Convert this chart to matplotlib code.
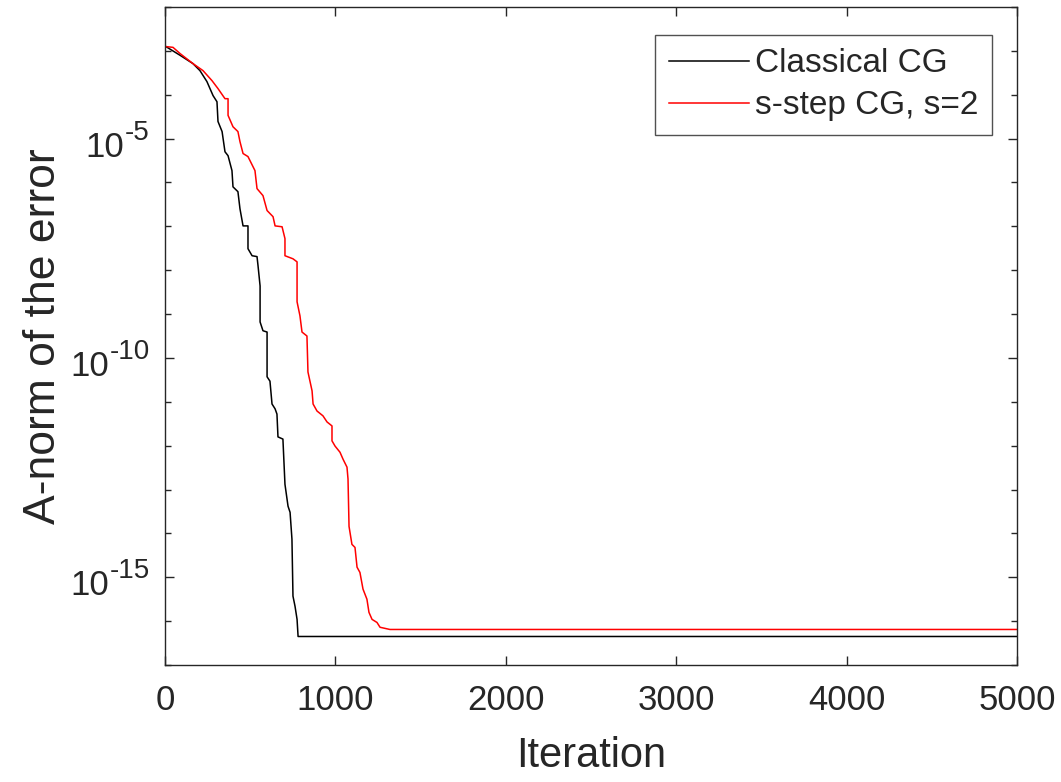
import matplotlib
matplotlib.use("Agg")
import matplotlib.pyplot as plt
import matplotlib.transforms as mtransforms
import numpy as np
from matplotlib.ticker import FixedLocator, NullFormatter

plt.rcParams['font.family'] = ['Liberation Sans', 'DejaVu Sans']

# Classical CG: iteration and log10 of A-norm error
cg_iter = [0, 88, 164, 205, 246, 282, 305, 311, 335, 352, 370, 393, 399, 428, 440,
           458, 487, 487, 511, 540, 546, 558, 558, 575, 599, 599, 616, 628, 646, 657,
           663, 692, 704, 722, 734, 745, 751, 763, 775, 781, 5000]
cg_log = [-2.89, -3.10, -3.29, -3.45, -3.70, -4.02, -4.16, -4.61, -4.84, -5.30, -5.39,
          -5.73, -6.10, -6.21, -6.60, -6.99, -6.99, -7.51, -7.67, -7.69, -7.90, -8.36,
          -9.18, -9.38, -9.41, -10.43, -10.53, -11.05, -11.16, -11.28, -11.80, -11.85,
          -12.88, -13.38, -13.52, -14.13, -15.43, -15.66, -15.96, -16.35, -16.35]

# s-step CG, s=2
ss_iter = [0, 47, 88, 164, 223, 276, 311, 352, 370, 370, 399, 428, 440, 458, 487, 528,
           540, 575, 599, 634, 646, 687, 704, 704, 751, 775, 775, 792, 804, 833, 839,
           863, 869, 892, 927, 951, 980, 980, 998, 1027, 1045, 1068, 1074, 1080, 1097,
           1115, 1127, 1144, 1162, 1185, 1197, 1215, 1244, 1262, 1320, 5000]
ss_log = [-2.90, -2.92, -3.06, -3.29, -3.45, -3.68, -3.86, -4.09, -4.09, -4.47, -4.73,
          -4.84, -5.07, -5.34, -5.41, -5.73, -6.14, -6.30, -6.64, -6.78, -6.99, -7.01,
          -7.28, -7.67, -7.74, -7.81, -8.72, -9.04, -9.41, -9.50, -10.32, -10.75, -11.05,
          -11.21, -11.32, -11.46, -11.55, -11.89, -12.01, -12.15, -12.31, -12.49, -12.76,
          -13.84, -14.25, -14.32, -14.77, -14.89, -15.27, -15.50, -15.80, -15.96, -16.03,
          -16.14, -16.19, -16.19]

labels = ['Classical CG', 's-step CG, s=2']
xticks = [0, 1000, 2000, 3000, 4000, 5000]
ytick_exponents = [-15, -10, -5]

axc = '#262626'
fig = plt.figure(figsize=(10.61, 7.82), dpi=100)
ax = fig.add_axes([165/1061, 1 - 665/782, 852/1061, 658/782])

ax.plot(cg_iter, 10.0**np.array(cg_log), color='black', lw=1.1, label=labels[0])
ax.plot(ss_iter, 10.0**np.array(ss_log), color='#ff0000', lw=1.1, label=labels[1])

ax.set_yscale('log')
ax.set_xlim(0, 5000)
ax.set_ylim(1e-17, 1e-2)
ax.set_xticks(xticks)
ax.set_xticklabels([str(t) for t in xticks])
ax.yaxis.set_major_locator(FixedLocator([10.0**e for e in ytick_exponents]))
ax.yaxis.set_major_formatter(NullFormatter())
ax.yaxis.set_minor_locator(FixedLocator([10.0**k for k in range(-17, -1)]))
ax.yaxis.set_minor_formatter(NullFormatter())

for s in ax.spines.values():
    s.set_color(axc)
    s.set_linewidth(1.0)
ax.tick_params(axis='both', which='major', direction='in', top=True, right=True,
               length=6.5, width=1.0, color=axc, labelcolor=axc, labelsize=25)
ax.tick_params(axis='x', which='major', pad=14)
ax.tick_params(axis='y', which='minor', direction='in', left=True, right=True,
               length=4.5, width=1.0, color=axc)

# y tick labels: "10" with a raised exponent
px = 72.0 / fig.dpi
ytrans = ax.get_yaxis_transform()
for e in ytick_exponents:
    sup_tr = mtransforms.offset_copy(ytrans, fig=fig, x=-15 * px, y=-1 * px, units='points')
    sup = ax.text(0, 10.0**e, '-' + str(-e), transform=sup_tr, ha='right', va='baseline',
                  fontsize=20, color=axc, clip_on=False)
    ax.annotate('10', xy=(0, 10.0**e), xycoords=(sup, ytrans),
                xytext=(-1 * px, -18 * px), textcoords='offset points',
                ha='right', va='baseline', fontsize=25, color=axc, annotation_clip=False)

ax.set_xlabel('Iteration', fontsize=30, color=axc)
ax.set_ylabel('A-norm of the error', fontsize=32, color=axc)
ax.xaxis.set_label_coords(0.5, -0.108)
ax.yaxis.set_label_coords(-0.118, 0.5)

leg = ax.legend(loc='upper right', bbox_to_anchor=((992-165)/852, (665-35)/658),
                borderaxespad=0, fontsize=24, frameon=True, fancybox=False,
                handlelength=2.4, handletextpad=0.2, labelspacing=0.33,
                borderpad=0.4, edgecolor=axc)
leg.get_frame().set_linewidth(1.0)
for t in leg.get_texts():
    t.set_color(axc)

fig.savefig('out.png', dpi=100)
